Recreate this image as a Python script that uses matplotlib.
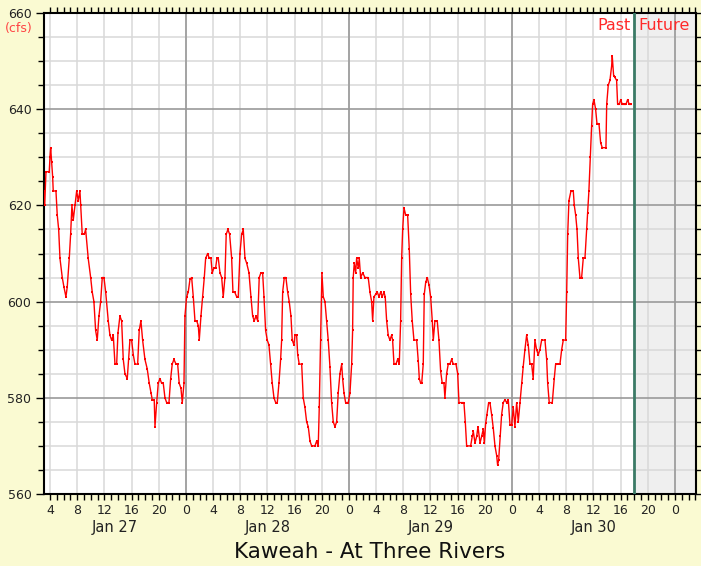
import matplotlib
matplotlib.use("Agg")
import matplotlib.pyplot as plt
from matplotlib.ticker import MultipleLocator
from matplotlib.transforms import blended_transform_factory

# ---- data: hours since Jan 27 00:00, flow in cfs ----
hours = [3.05, 3.2, 3.39, 3.87, 3.98, 4.08, 4.23, 4.37, 4.46, 4.86, 5.05, 5.26, 5.45, 5.79, 6.04,
         6.33, 6.52, 6.82, 7.02, 7.21, 7.41, 7.66, 7.91, 8.14, 8.39, 8.5, 8.73, 9.03, 9.23, 9.61,
         9.97, 10.2, 10.45, 10.7, 10.94, 11.19, 11.44, 11.68, 11.93, 12.18, 12.56, 12.81, 13.06,
         13.3, 13.55, 13.8, 13.99, 14.28, 14.53, 14.77, 15.02, 15.36, 15.56, 15.75, 16.0, 16.24,
         16.49, 16.89, 17.12, 17.37, 17.62, 17.96, 18.3, 18.6, 18.85, 19.04, 19.33, 19.44, 19.69,
         19.92, 20.17, 20.42, 20.66, 20.91, 21.16, 21.5, 21.75, 21.98, 22.23, 22.53, 22.78, 23.01,
         23.26, 23.46, 23.71, 23.85, 24.1, 24.34, 24.59, 24.84, 25.08, 25.33, 25.58, 25.82, 25.96,
         26.21, 26.46, 26.7, 26.9, 27.2, 27.43, 27.68, 27.87, 28.12, 28.37, 28.56, 28.76, 29.01,
         29.26, 29.49, 29.74, 29.93, 30.18, 30.43, 30.73, 30.92, 31.17, 31.47, 31.7, 31.95, 32.2,
         32.44, 32.69, 32.94, 33.28, 33.57, 33.82, 34.06, 34.31, 34.56, 34.79, 35.04, 35.29, 35.49,
         35.73, 35.97, 36.22, 36.47, 36.71, 36.96, 37.21, 37.45, 37.69, 37.94, 38.09, 38.24, 38.48,
         38.72, 38.97, 39.21, 39.46, 39.65, 39.9, 40.05, 40.3, 40.45, 40.68, 41.04, 41.27, 41.52,
         41.77, 42.01, 42.26, 42.51, 43.0, 43.24, 43.48, 43.63, 43.83, 44.02, 44.22, 44.47, 44.71,
         44.95, 45.2, 45.45, 45.69, 45.94, 46.19, 46.42, 46.67, 46.93, 47.07, 47.27, 47.51, 47.9,
         48.15, 48.4, 48.54, 48.63, 48.78, 48.99, 49.13, 49.37, 49.52, 49.72, 50.02, 50.36, 50.84,
         51.09, 51.34, 51.49, 51.68, 51.93, 52.17, 52.42, 52.67, 52.9, 53.15, 53.34, 53.55, 53.78,
         54.03, 54.28, 54.43, 54.63, 54.92, 55.17, 55.41, 55.61, 55.76, 55.91, 56.1, 56.35, 56.64,
         56.88, 57.09, 57.32, 57.57, 57.97, 58.21, 58.36, 58.56, 58.71, 58.94, 59.09, 59.3, 59.53,
         59.78, 60.03, 60.27, 60.42, 60.66, 61.0, 61.25, 61.5, 61.74, 61.99, 62.13, 62.38, 62.62,
         62.87, 63.12, 63.36, 63.76, 64.01, 64.2, 64.59, 64.93, 65.13, 65.33, 65.92, 66.16, 66.31,
         66.56, 66.81, 67.0, 67.3, 67.54, 67.78, 67.93, 68.13, 68.32, 68.57, 68.76, 69.01, 69.25,
         69.5, 69.75, 69.89, 70.04, 70.28, 70.48, 70.72, 70.97, 71.22, 71.46, 71.71, 71.96, 72.19,
         72.44, 72.69, 72.93, 73.18, 73.42, 73.66, 73.91, 74.16, 74.4, 74.65, 74.9, 75.13, 75.38,
         75.63, 75.87, 76.12, 76.37, 76.86, 77.11, 77.26, 77.49, 77.94, 78.23, 78.43, 78.82, 79.07,
         79.32, 79.56, 79.91, 80.06, 80.21, 80.39, 80.69, 81.03, 81.18, 81.38, 81.58, 81.77, 82.01,
         82.26, 82.5, 82.75, 83.0, 83.14, 83.33, 83.53, 83.73, 83.88, 84.07, 84.32, 84.52, 84.81,
         85.06, 85.3, 85.84, 85.95, 86.18, 86.43, 86.68, 86.77, 86.97, 87.16, 87.41, 87.56, 87.8,
         88.01, 88.24, 88.54, 88.79, 89.03, 89.27, 89.52]
flow = [623, 620, 627, 627, 630, 632, 629, 626, 623, 623, 618, 615, 609, 605, 603,
        601, 603, 609, 614, 620, 617, 620, 623, 621, 623, 620, 614, 614, 615, 609,
        605, 602, 600, 594, 592, 597, 600, 605, 605, 602, 596, 593, 592,
        593, 587, 587, 593.5, 597, 596, 588, 585, 584, 588, 592, 592, 589,
        587, 587, 594, 596, 592, 588, 586, 583, 581, 579.6, 579.6, 574, 579,
        583, 584, 583, 583, 580, 579, 579, 584, 587, 588, 587, 587, 583,
        582, 579, 583, 597, 601, 602, 604.6, 605, 601, 596, 596, 595, 592,
        597, 601, 605, 609, 610, 609, 609, 606, 607, 607, 609, 609, 606,
        605, 601, 605, 614, 615, 614, 609, 602, 602, 601, 601, 610, 614,
        615, 609, 608, 606, 601, 597, 596, 597, 596, 605, 606, 606, 601,
        594, 592, 591, 587, 583, 580, 579, 579, 583, 588, 592, 602, 605,
        605, 602, 600, 597, 592, 591, 593, 593, 589, 587, 587, 580, 578,
        575, 574, 571, 570, 570, 571, 570, 578, 592, 606, 601, 600, 596,
        592, 586.5, 579, 575, 574, 575, 581, 585, 587, 584, 581, 579, 579,
        581, 587, 594, 605, 608, 606, 609, 607, 609, 605, 606, 605, 605,
        602, 600, 596, 601, 601.5, 602, 601, 602, 601, 602, 601, 596, 593,
        592, 593, 592, 587, 587, 588, 587, 596, 609, 615, 619.5, 618, 618,
        611, 601.5, 596, 592, 592, 587.6, 584, 583, 583, 587, 601.5, 604, 605,
        603.5, 601, 596, 592, 596, 596, 592, 585.5, 583, 583, 580, 585, 587,
        587, 588, 587, 587, 585, 579, 579, 579, 575, 570, 570, 572, 573,
        570.6, 572, 574, 570.6, 572, 573.5, 570.6, 574.7, 576.5, 579, 579, 576.5, 573.7,
        570, 568, 566, 567, 572, 576.5, 579, 579.6, 579, 579.6, 574.4, 574.4, 578,
        574, 579, 575, 579, 583, 586.5, 590, 593, 591, 587, 587, 584, 592,
        590, 589, 590, 592, 592, 588, 583, 579, 579, 584, 587, 587, 587,
        590, 592, 592, 602, 614, 621, 623, 623, 620, 618, 615, 609, 605,
        605, 609, 609, 615, 618.5, 623, 630, 636.5, 641, 642, 640, 637, 637,
        633, 632, 632, 641, 645, 646, 649, 651, 647, 646.6, 646, 641, 641,
        642, 641, 641, 641, 642, 641, 641]

x_start, x_end = 3.1, 99.1          # Jan 27 03:06 .. Jan 31 03:06
now_hour = 90.0                      # Past / Future boundary
y_min, y_max = 560, 660
day_names = ["Jan 27", "Jan 28", "Jan 29", "Jan 30"]
day_starts = [0, 24, 48, 72]
title = "Kaweah - At Three Rivers"

bg = "#fafad2"
light_grid = "#d8d8d8"
dark_grid = "#9a9a9a"
text_col = "#222222"

fig = plt.figure(figsize=(7.01, 5.66), dpi=100, facecolor=bg)
ax = fig.add_axes([44 / 701, 1 - 494 / 566, 652 / 701, 481 / 566])
ax.set_facecolor("white")
ax.set_xlim(x_start, x_end)
ax.set_ylim(y_min, y_max)

# future shading
ax.axvspan(now_hour, x_end, color="#efefef", zorder=0.1, lw=0)

# grids
ax.set_axisbelow(True)
ax.xaxis.set_major_locator(MultipleLocator(4))
ax.xaxis.set_minor_locator(MultipleLocator(1))
ax.yaxis.set_major_locator(MultipleLocator(20))
ax.yaxis.set_minor_locator(MultipleLocator(5))
ax.grid(axis="x", which="major", color=light_grid, lw=1.1)
ax.grid(axis="y", which="minor", color=light_grid, lw=1.1)
ax.grid(axis="y", which="major", color=dark_grid, lw=1.2)
for d in range(0, 120, 24):
    if x_start < d < x_end:
        ax.axvline(d, color=dark_grid, lw=1.2, zorder=0.6)

ax.axvline(now_hour, color="#3b7a66", lw=2.0, zorder=3)

ax.xaxis.set_major_formatter(plt.FuncFormatter(lambda v, p: f"{int(round(v)) % 24}"))

ax.tick_params(axis="x", which="both", direction="out", length=4, width=1,
               top=True, bottom=True, labelsize=9, labelcolor=text_col, pad=3)
ax.tick_params(axis="y", which="major", direction="out", length=6, width=1,
               left=True, right=True, labelsize=9, labelcolor=text_col, pad=3)
ax.tick_params(axis="y", which="minor", direction="out", length=4, width=1,
               left=True, right=True)
for s in ax.spines.values():
    s.set_linewidth(1.5)
    s.set_color("black")

# data
ax.plot(hours, flow, color="#ff0000", lw=1.0, marker="s", markersize=1.9,
        markeredgewidth=0, zorder=4)

# day labels (centred on visible part of each day)
tr = blended_transform_factory(ax.transData, ax.transAxes)
for name, d0 in zip(day_names, day_starts):
    lo, hi = max(d0, x_start), min(d0 + 24, x_end)
    ax.text((lo + hi) / 2, -0.069, name, transform=tr, ha="center", va="center",
            fontsize=10.5, color=text_col)

ax.text(-0.038, 0.967, "(cfs)", transform=ax.transAxes, ha="center", va="center",
        fontsize=9, color="#ff4444")
ax.text(now_hour - 0.5, 0.975, "Past", transform=tr, ha="right", va="center",
        fontsize=11.5, color="#ff2a2a", zorder=5)
ax.text(now_hour + 0.6, 0.975, "Future", transform=tr, ha="left", va="center",
        fontsize=11.5, color="#ff2a2a", zorder=5)

fig.text(370 / 701, 1 - 552 / 566, title, ha="center", va="center",
         fontsize=15.5, color="#111111")

fig.savefig("out.png", dpi=100, facecolor=bg)
